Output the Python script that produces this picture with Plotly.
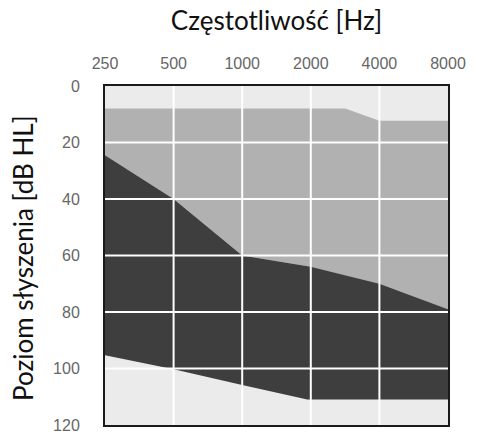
import plotly.graph_objects as go

# Frequencies (Hz) and tick labels
freq_ticks = [250, 500, 1000, 2000, 4000, 8000]
freq_labels = ["250", "500", "1000", "2000", "4000", "8000"]
db_ticks = [0, 20, 40, 60, 80, 100, 120]

# Upper edge of the medium-gray zone
upper_freq = [250, 2830, 4000, 8000]
upper_db = [8, 8, 12.3, 12.3]

# Upper edge of the dark zone
dark_top_freq = [250, 500, 1000, 2000, 4000, 8000]
dark_top_db = [24.5, 40, 60, 64, 70, 79]

# Lower edge of the dark zone
dark_bot_freq = [250, 500, 1000, 1930, 8000]
dark_bot_db = [95.3, 100.3, 105.8, 111, 111]

LIGHT = "#ebebeb"
MID = "#b1b1b2"
DARK = "#3e3e3e"

fig = go.Figure()
fig.add_trace(go.Scatter(x=upper_freq, y=upper_db, mode="lines",
                         line=dict(width=0), showlegend=False, hoverinfo="skip"))
fig.add_trace(go.Scatter(x=dark_top_freq, y=dark_top_db, mode="lines",
                         line=dict(width=0), fill="tonexty", fillcolor=MID,
                         showlegend=False, hoverinfo="skip"))
fig.add_trace(go.Scatter(x=dark_bot_freq, y=dark_bot_db, mode="lines",
                         line=dict(width=0), fill="tonexty", fillcolor=DARK,
                         showlegend=False, hoverinfo="skip"))

shapes = []
for f in freq_ticks[1:-1]:
    shapes.append(dict(type="line", xref="x", yref="paper", x0=f, x1=f, y0=0, y1=1,
                       line=dict(color="white", width=2), layer="above"))
for d in db_ticks[1:-1]:
    shapes.append(dict(type="line", xref="paper", yref="y", x0=0, x1=1, y0=d, y1=d,
                       line=dict(color="white", width=2), layer="above"))

tickfont = dict(family="Liberation Sans, Arial, sans-serif", size=16, color="#666666")
labelfont = dict(family="Lato, sans-serif", size=26, color="#111111")

W, H = 478, 446
fig.update_layout(
    width=W, height=H,
    margin=dict(l=105, r=24, t=86, b=12),
    paper_bgcolor="white", plot_bgcolor=LIGHT,
    shapes=shapes,
    hovermode=False,
    title=dict(text="Częstotliwość [Hz]", x=0.5, xref="paper", xanchor="center",
               y=1 - 21 / H, yref="container", yanchor="middle", font=labelfont),
    xaxis=dict(type="log", side="top", range=[2.39794, 3.90309],
               tickvals=freq_ticks, ticktext=freq_labels, tickfont=tickfont,
               showgrid=False, zeroline=False, ticks="outside", ticklen=9,
               tickcolor="rgba(0,0,0,0)", ticklabeloverflow="allow",
               showline=True, mirror=True, linecolor="#1a1a1a", linewidth=2,
               layer="above traces", fixedrange=True),
    yaxis=dict(range=[120, 0], tickvals=db_ticks, tickfont=tickfont,
               showgrid=False, zeroline=False, ticks="outside", ticklen=20,
               tickcolor="rgba(0,0,0,0)", ticklabeloverflow="allow",
               showline=True, mirror=True, linecolor="#1a1a1a", linewidth=2,
               layer="above traces", fixedrange=True),
    annotations=[dict(text="Poziom słyszenia [dB HL]", textangle=-90,
                      xref="paper", yref="paper", x=(22 - 105) / 349, y=(434 - 262) / 348,
                      xanchor="center", yanchor="middle", showarrow=False,
                      font=labelfont)],
)

# remove the browser's default 8px body margin so the figure fills the window exactly
fig.write_html("out.html",
               config={"displayModeBar": False, "staticPlot": True},
               post_script="document.body.style.margin='0';document.body.style.overflow='hidden';")
